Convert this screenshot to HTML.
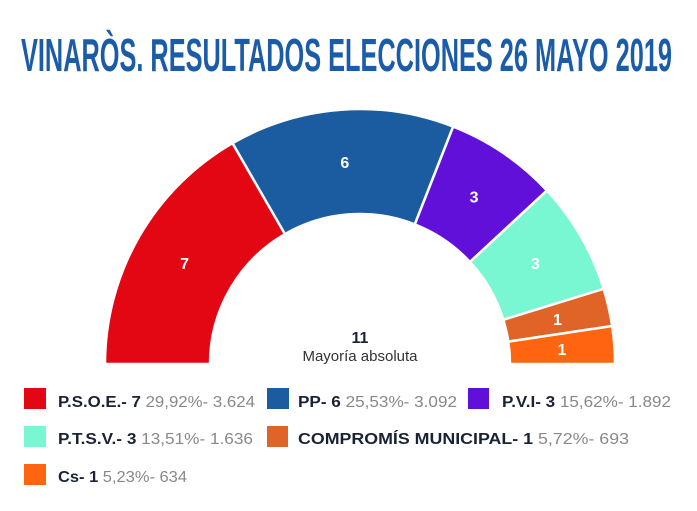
<!DOCTYPE html>
<html><head><meta charset="utf-8"><style>
html,body{margin:0;padding:0;background:#fff;width:697px;height:511px;overflow:hidden}
</style></head><body>
<svg id="s" width="697" height="511" xmlns="http://www.w3.org/2000/svg" font-family="Liberation Sans, sans-serif">
<text x="21" y="71" font-size="46" font-weight="bold" fill="#1b5ca8" textLength="651" lengthAdjust="spacingAndGlyphs">VINARÒS. RESULTADOS ELECCIONES 26 MAYO 2019</text>
<g id="arcs"></g>
<text x="360" y="343" font-size="16" font-weight="bold" fill="#1a2233" text-anchor="middle">11</text>
<text x="360" y="361" font-size="15" fill="#333" text-anchor="middle">Mayoría absoluta</text>
<g font-size="16">
<rect x="24" y="388" width="22" height="21" fill="#e30613"/>
<text x="58" y="407" textLength="197" lengthAdjust="spacingAndGlyphs"><tspan font-weight="bold" fill="#1a2233">P.S.O.E.- 7</tspan><tspan fill="#888"> 29,92%- 3.624</tspan></text>
<rect x="267" y="388" width="22" height="21" fill="#1b5ca0"/>
<text x="298" y="407" textLength="159" lengthAdjust="spacingAndGlyphs"><tspan font-weight="bold" fill="#1a2233">PP- 6</tspan><tspan fill="#888"> 25,53%- 3.092</tspan></text>
<rect x="468" y="388" width="21" height="21" fill="#6010d8"/>
<text x="502" y="407" textLength="169" lengthAdjust="spacingAndGlyphs"><tspan font-weight="bold" fill="#1a2233">P.V.I- 3</tspan><tspan fill="#888"> 15,62%- 1.892</tspan></text>
<rect x="24" y="426" width="22" height="21" fill="#78f7d2"/>
<text x="58" y="444" textLength="195" lengthAdjust="spacingAndGlyphs"><tspan font-weight="bold" fill="#1a2233">P.T.S.V.- 3</tspan><tspan fill="#888"> 13,51%- 1.636</tspan></text>
<rect x="267" y="426" width="21" height="21" fill="#e06428"/>
<text x="298" y="444" textLength="331" lengthAdjust="spacingAndGlyphs"><tspan font-weight="bold" fill="#1a2233">COMPROMÍS MUNICIPAL- 1</tspan><tspan fill="#888"> 5,72%- 693</tspan></text>
<rect x="24" y="464" width="22" height="21" fill="#ff6510"/>
<text x="58" y="482" textLength="129" lengthAdjust="spacingAndGlyphs"><tspan font-weight="bold" fill="#1a2233">Cs- 1</tspan><tspan fill="#888"> 5,23%- 634</tspan></text>
</g>
</svg>
<script>
var cx=360,cy=364,R=255,r=150;
var parts=[[7,"#e30613","7"],[6,"#1b5ca0","6"],[3,"#6010d8","3"],[3,"#78f7d2","3"],[1,"#e06428","1"],[1,"#ff6510","1"]];
var g=document.getElementById("arcs"),a=0,h="";
function pt(rad,deg){var t=Math.PI-deg*Math.PI/180;return [cx+rad*Math.cos(t),cy-rad*Math.sin(t)];}
parts.forEach(function(p){
 var a0=a,a1=a+p[0]*180/21;a=a1;
 var o0=pt(R,a0),o1=pt(R,a1),i1=pt(r,a1),i0=pt(r,a0);
 h+='<path d="M'+o0+' A'+R+' '+R+' 0 0 1 '+o1+' L'+i1+' A'+r+' '+r+' 0 0 0 '+i0+'Z" fill="'+p[1]+'" stroke="#fff" stroke-width="2.5"/>';
 var m=pt((R+r)/2,(a0+a1)/2);
 h+='<text x="'+m[0]+'" y="'+(m[1]+6)+'" fill="#fff" font-size="16" font-weight="bold" text-anchor="middle">'+p[2]+'</text>';
});
g.innerHTML=h;
</script>
</body></html>
